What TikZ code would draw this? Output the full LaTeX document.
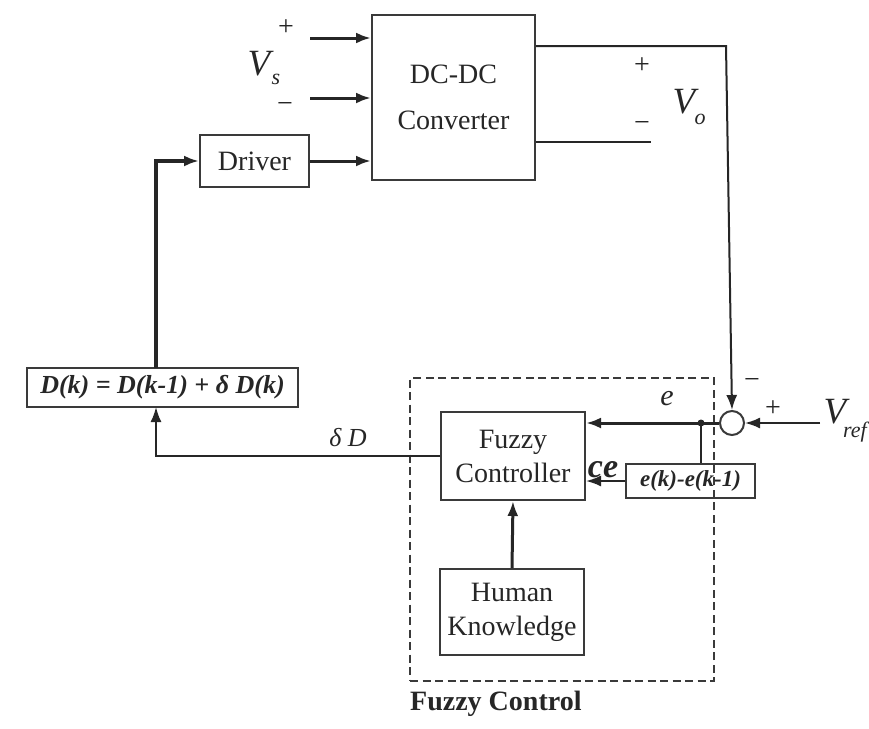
\documentclass[tikz,border=0pt]{standalone}
\usepackage{fontspec}
\setmainfont{Liberation Serif}
\usepackage{graphicx}
\usetikzlibrary{arrows.meta,calc}
\definecolor{ink}{HTML}{262626}
\definecolor{frame}{HTML}{3A3A3A}
\begin{document}
\begin{tikzpicture}[x=1pt,y=-1pt,
  wire/.style={draw=ink, line width=2pt},
  thickwire/.style={draw=ink, line width=3pt},
  thickerwire/.style={draw=ink, line width=3.5pt},
  arr/.style={-{Latex[length=15pt,width=11pt]}},
  box/.style={draw=frame, line width=2pt, rectangle, inner sep=0pt, align=center,
    font=\fontsize{28}{34}\selectfont, text=ink},
  lbl/.style={inner sep=0pt, text=ink},
  sign/.style={lbl, font=\fontsize{28}{28}\selectfont},
  bigV/.style={lbl, font=\fontsize{37}{37}\selectfont\itshape},
  subV/.style={lbl, font=\fontsize{22}{22}\selectfont\itshape}]
\useasboundingbox (0,0) rectangle (869,728);
\fill[white] (0,0) rectangle (869,728);

% dashed fuzzy control frame
\node[draw=frame, line width=2.4pt, dash pattern=on 8pt off 4.5pt, minimum width=304pt, minimum height=303pt, inner sep=0pt] (fcbox) at (562,529.5) {};
\node[lbl, anchor=base west, font=\fontsize{28}{28}\selectfont\bfseries] (fclabel) at (410,710) {Fuzzy Control};

% blocks
\node[box, minimum width=163pt, minimum height=165pt, font=\fontsize{28}{46}\selectfont] (conv) at (453.5,97.5) {DC-DC\\Converter};
\node[box, minimum width=109pt, minimum height=52pt] (driver) at (254.5,161) {Driver};
\node[box, minimum width=271pt, minimum height=39pt, font=\fontsize{26}{30}\selectfont\bfseries\itshape] (dbox) at (162.5,387.5) {D(k) = D(k-1) + δ D(k)};
\node[box, minimum width=144pt, minimum height=88pt] (fc) at (513,456) {Fuzzy\\Controller};
\node[box, minimum width=144pt, minimum height=86pt] (hk) at (512,612) {Human\\Knowledge};
\node[box, minimum width=129pt, minimum height=34pt, font=\fontsize{23}{26}\selectfont\bfseries\itshape] (ebox) at (690.5,481) {e(k)-e(k-1)};
\node[circle, draw=frame, line width=2pt, fill=white, minimum size=24pt, inner sep=0pt] (sum) at (732,423) {};

% coordinates
\coordinate (vsp) at (310,38);
\coordinate (vsn) at (310,98);
\coordinate (votop) at (726,46);
\coordinate (voneg) at (651,142);
\coordinate (vrefin) at (820,423);
\coordinate (jn) at (701,423);
\coordinate (dd) at (156,407);
\coordinate (du) at (156,368);

% connectors
\draw[thickwire, arr] (vsp) -- (vsp -| conv.west);
\draw[thickwire, arr] (vsn) -- (vsn -| conv.west);
\draw[thickwire, arr] (driver.east) -- (driver.east -| conv.west);
\draw[wire, arr] (conv.east |- votop) -- (votop) -- (sum.north);
\draw[wire] (conv.east |- voneg) -- (voneg);
\draw[wire, arr] (vrefin) -- (sum.east);
\draw[thickwire, arr] (sum.west) -- (fc.east |- sum.west);
\fill[ink] (jn) circle (3.5pt);
\draw[wire] (jn) -- (jn |- ebox.north);
\draw[wire, arr] (ebox.west) -- (fc.east |- ebox.west);
\draw[thickwire, arr] (hk.north) -- (fc.south);
\draw[wire, arr] (fc.west) -| (dd);
\draw[thickerwire, arr] (du) |- (driver.west);

% labels
\node[sign] (vsplus) at (286,28) {+};
\node[sign] (vsminus) at (285,108) {−};
\node[bigV, anchor=base] (vsV) at (259,75) {V};
\node[subV, anchor=base] (vss) at (276,84) {s};
\node[sign] (voplus) at (642,66) {+};
\node[sign] (vominus) at (642,127) {−};
\node[bigV, anchor=base] (voV) at (684,113) {V};
\node[subV, anchor=base] (voo) at (700,124) {o};
\node[sign] (summinus) at (752,383) {−};
\node[sign] (sumplus) at (773,409) {+};
\node[bigV, anchor=base] (vrefV) at (835,423) {V};
\node[subV, anchor=base west] (vrefsub) at (843,437) {ref};
\node[lbl, anchor=base, font=\fontsize{30}{30}\selectfont\itshape] (elabel) at (667,405) {e};
\node[lbl, anchor=base, font=\fontsize{34}{34}\selectfont\bfseries\itshape] (celabel) at (603,477) {ce};
\node[lbl, anchor=base, font=\fontsize{26}{26}\selectfont\itshape] (dDlabel) at (348,446) {δ D};
\end{tikzpicture}
\end{document}
